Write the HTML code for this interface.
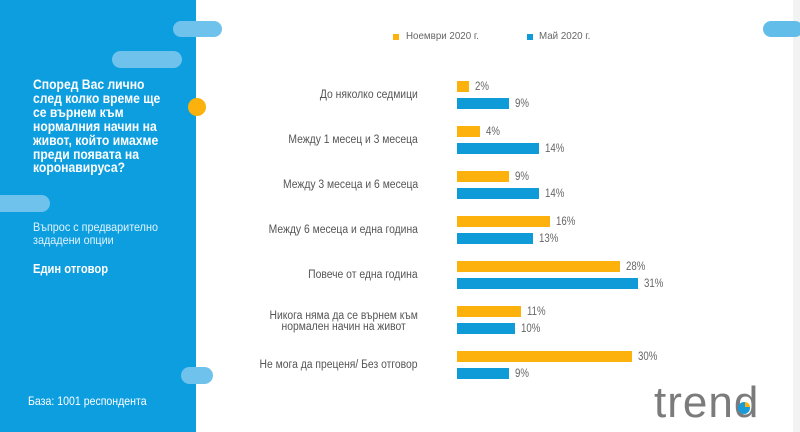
<!DOCTYPE html>
<html><head><meta charset="utf-8"><style>
*{margin:0;padding:0;box-sizing:border-box}
html,body{width:800px;height:432px;overflow:hidden;background:#fff}
body{position:relative;font-family:"Liberation Sans","DejaVu Sans",sans-serif}
.abs{position:absolute}
.panel{left:0;top:0;width:196px;height:432px;background:#0d9ee0}
.pill{position:absolute;border-radius:9px;background:#6fc2ec}
.strip{left:793px;top:0;width:7px;height:432px;background:#f3f3f3}
.cnl{display:inline-block;transform-origin:left center;white-space:nowrap}
.cnr{display:inline-block;transform-origin:right center;white-space:nowrap}
.title{left:33px;top:78px;color:#fff;font-weight:bold;font-size:13.5px;line-height:13.9px}
.bar{position:absolute;height:11px}
.o{background:#fdb10c}
.b{background:#0f9ad8}
.val{position:absolute;font-size:11.5px;color:#666;line-height:12px;white-space:nowrap;transform:scaleX(.84);transform-origin:left center}
.cat{position:absolute;right:382px;font-size:11.5px;color:#555;text-align:right;line-height:11px;white-space:nowrap}
.leg{position:absolute;font-size:10.5px;color:#666;line-height:12px;white-space:nowrap;transform:scaleX(.93);transform-origin:left center}
.sq{position:absolute;width:6px;height:6px}
</style></head><body>
<div class="abs panel"></div>
<div class="abs strip"></div>
<div class="pill" style="left:173px;top:21px;width:49px;height:16px"></div>
<div class="pill" style="left:112px;top:51px;width:70px;height:17px"></div>
<div class="pill" style="left:-10px;top:195px;width:60px;height:17px"></div>
<div class="pill" style="left:181px;top:367px;width:32px;height:17px"></div>
<div class="pill" style="left:763px;top:21px;width:40px;height:16px;border-radius:8px;background:#62bde8"></div>
<div class="abs" style="left:188px;top:98px;width:18px;height:18px;border-radius:50%;background:#fdb10c"></div>

<div class="abs title"><span class="cnl" style="transform:scaleX(.9)">Според Вас лично<br>след колко време ще<br>се върнем към<br>нормалния начин на<br>живот, който имахме<br>преди появата на<br>коронавируса?</span></div>

<div class="abs" style="left:33px;top:221px;color:rgba(255,255,255,.88);font-size:12px;line-height:12.5px"><span class="cnl" style="transform:scaleX(.9)">Въпрос с предварително<br>зададени опции</span></div>
<div class="abs" style="left:33px;top:262px;color:#fff;font-size:13px;line-height:14px;font-weight:bold"><span class="cnl" style="transform:scaleX(.86)">Един отговор</span></div>
<div class="abs" style="left:28px;top:394px;color:#fff;font-size:12px;line-height:14px"><span class="cnl" style="transform:scaleX(.88)">База: 1001 респондента</span></div>

<div class="sq o" style="left:393px;top:34px"></div>
<div class="leg" style="left:406px;top:30px">Ноември 2020 г.</div>
<div class="sq b" style="left:527px;top:34px"></div>
<div class="leg" style="left:539px;top:30px">Май 2020 г.</div>

<!-- categories -->
<div class="cat" style="top:90px"><span class="cnr" style="transform:scaleX(.9)">До няколко седмици</span></div>
<div class="cat" style="top:135px"><span class="cnr" style="transform:scaleX(.9)">Между 1 месец и 3 месеца</span></div>
<div class="cat" style="top:180px"><span class="cnr" style="transform:scaleX(.9)">Между 3 месеца и 6 месеца</span></div>
<div class="cat" style="top:225px"><span class="cnr" style="transform:scaleX(.9)">Между 6 месеца и една година</span></div>
<div class="cat" style="top:270px"><span class="cnr" style="transform:scaleX(.9)">Повече от една година</span></div>
<div class="cat" style="top:311px;text-align:center;right:382px"><span class="cnr" style="transform:scaleX(.9);text-align:center">Никога няма да се върнем към<br>нормален начин на живот</span></div>
<div class="cat" style="top:360px"><span class="cnr" style="transform:scaleX(.9)">Не мога да преценя/ Без отговор</span></div>

<!-- bars -->
<div class="bar o" style="left:457px;top:81px;width:12px"></div>
<div class="val" style="left:475px;top:81px">2%</div>
<div class="bar b" style="left:457px;top:98px;width:52px"></div>
<div class="val" style="left:515px;top:98px">9%</div>

<div class="bar o" style="left:457px;top:126px;width:23px"></div>
<div class="val" style="left:486px;top:126px">4%</div>
<div class="bar b" style="left:457px;top:143px;width:82px"></div>
<div class="val" style="left:545px;top:143px">14%</div>

<div class="bar o" style="left:457px;top:171px;width:52px"></div>
<div class="val" style="left:515px;top:171px">9%</div>
<div class="bar b" style="left:457px;top:188px;width:82px"></div>
<div class="val" style="left:545px;top:188px">14%</div>

<div class="bar o" style="left:457px;top:216px;width:93px"></div>
<div class="val" style="left:556px;top:216px">16%</div>
<div class="bar b" style="left:457px;top:233px;width:76px"></div>
<div class="val" style="left:539px;top:233px">13%</div>

<div class="bar o" style="left:457px;top:261px;width:163px"></div>
<div class="val" style="left:626px;top:261px">28%</div>
<div class="bar b" style="left:457px;top:278px;width:181px"></div>
<div class="val" style="left:644px;top:278px">31%</div>

<div class="bar o" style="left:457px;top:306px;width:64px"></div>
<div class="val" style="left:527px;top:306px">11%</div>
<div class="bar b" style="left:457px;top:323px;width:58px"></div>
<div class="val" style="left:521px;top:323px">10%</div>

<div class="bar o" style="left:457px;top:351px;width:175px"></div>
<div class="val" style="left:638px;top:351px">30%</div>
<div class="bar b" style="left:457px;top:368px;width:52px"></div>
<div class="val" style="left:515px;top:368px">9%</div>

<!-- logo -->
<div class="abs" style="left:654px;top:379px;font-size:44px;line-height:48px;color:#7b7b7b;letter-spacing:1px">tren<span style="letter-spacing:0">d</span></div>
<svg class="abs" style="left:737px;top:401px" width="14" height="14" viewBox="0 0 14 14">
<circle cx="7" cy="7" r="6" fill="#1a9ad6"/>
<path d="M8 6 L8 1 A5 5 0 0 1 13 6 Z" fill="#fdb10c"/>
</svg>
</body></html>
